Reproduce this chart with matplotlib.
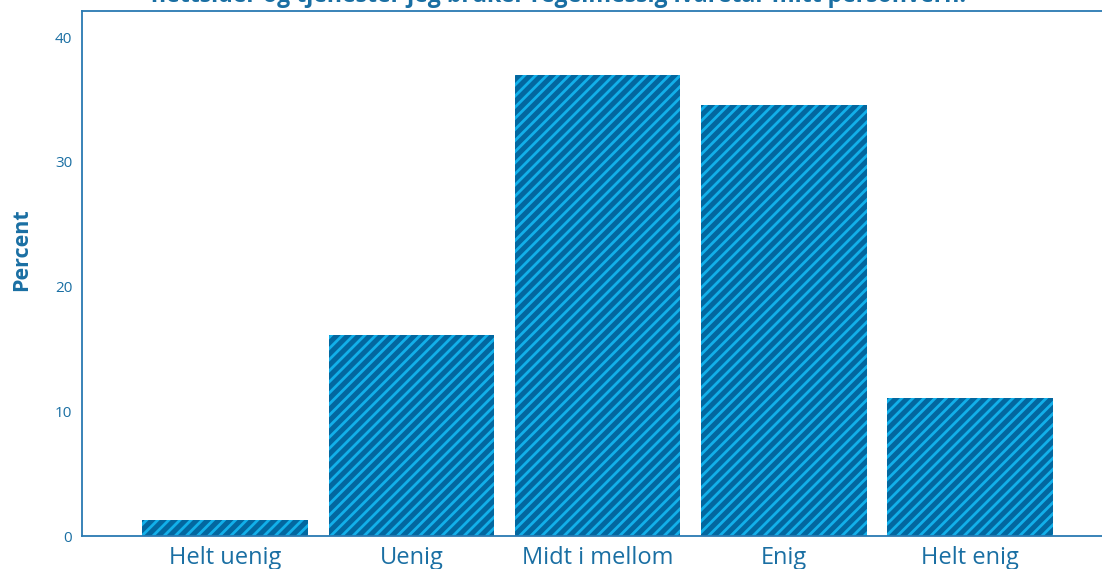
import matplotlib
matplotlib.use("Agg")
import matplotlib.pyplot as plt

categories = ["Helt uenig", "Uenig", "Midt i mellom", "Enig", "Helt enig"]
values = [1.3, 16.1, 37.0, 34.6, 11.1]
title_text = "nettsider og tjenester jeg bruker regelmessig ivaretar mitt personvern."
ylabel_text = "Percent"
yticks = [0, 10, 20, 30, 40]

txt_color = "#1a6fa3"
bar_color = "#03679f"
hatch_color = "#12b0ea"

plt.rcParams['font.family'] = ['Open Sans', 'DejaVu Sans']
plt.rcParams['hatch.color'] = hatch_color
plt.rcParams['hatch.linewidth'] = 2.0

fig = plt.figure(figsize=(11.02, 5.69), dpi=100)
ax = fig.add_axes([82/1102, 33/569, 1 - 82/1102, (536-11)/569])

x = list(range(len(categories)))
ax.bar(x, values, width=0.89, color=bar_color, edgecolor=hatch_color, linewidth=0, hatch="///")

ax.set_xlim(-0.77, 4.71)
ax.set_ylim(0, 42.1)
ax.set_yticks(yticks)
ax.set_xticks(x)
ax.set_xticklabels(categories, fontsize=17, color=txt_color)
ax.tick_params(axis='y', labelsize=11, colors=txt_color, length=0, pad=7)
ax.tick_params(axis='x', length=0, pad=7)
for s in ['left', 'top', 'bottom']:
    ax.spines[s].set_color("#2a7ab2")
    ax.spines[s].set_linewidth(1.3)
ax.spines['right'].set_visible(False)

fig.text(22/1102, 1 - 250/569, ylabel_text, rotation=90, fontsize=15.5, fontweight='bold',
         color=txt_color, ha='center', va='center')
fig.text(559/1102, 1 - 2/569, title_text, fontsize=16.7, fontweight='bold', color=txt_color,
         ha='center', va='baseline')

fig.savefig("out.png", dpi=100)
